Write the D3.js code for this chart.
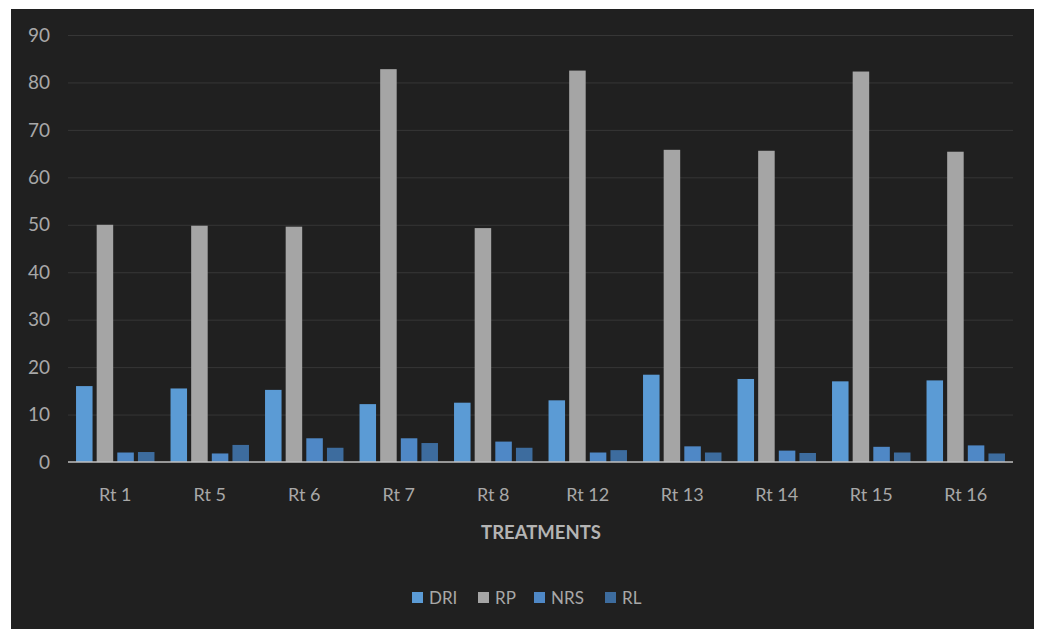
<!DOCTYPE html>
<meta charset="utf-8">
<head>
    <title>Treatments</title>
    <script src="https://d3js.org/d3.v7.min.js"></script>
    <style>
        html, body { margin: 0; padding: 0; background: #fff; }
        text { font-family: Lato, "Open Sans", sans-serif; }
        .grid line { stroke: #363636; stroke-width: 1px; }
        .grid path { display: none; }
    </style>
</head>
<body>
<svg width="1041" height="636"></svg>
<script>

// data
var treatments = ["Rt 1", "Rt 5", "Rt 6", "Rt 7", "Rt 8", "Rt 12", "Rt 13", "Rt 14", "Rt 15", "Rt 16"];
var seriesNames = ["DRI", "RP", "NRS", "RL"];
var dri = [16, 15.5, 15.2, 12.2, 12.5, 13, 18.4, 17.5, 17, 17.2];
var rp  = [50, 49.8, 49.6, 82.8, 49.3, 82.5, 65.8, 65.6, 82.3, 65.4];
var nrs = [2, 1.8, 5, 5, 4.3, 2, 3.3, 2.4, 3.2, 3.5];
var rl  = [2.1, 3.6, 3, 4, 3, 2.5, 2, 1.9, 2, 1.8];
var yTicks = [0, 10, 20, 30, 40, 50, 60, 70, 80, 90];
var colors = ["#5b9bd5", "#a5a5a5", "#4f88c6", "#3d6c9e"];

var values = [dri, rp, nrs, rl];

var svg = d3.select("svg");

// dark chart area
svg.append("rect")
    .attr("x", 11).attr("y", 9)
    .attr("width", 1023).attr("height", 620)
    .attr("fill", "#202020");

var margin = {top: 35, left: 68, right: 28, bottom: 174};
var width = 1041 - margin.left - margin.right,
    height = 636 - margin.top - margin.bottom;

var x = d3.scaleBand().domain(treatments).range([0, width]).paddingInner(0.17).paddingOuter(0.085);
var x1 = d3.scaleBand().domain(seriesNames).range([0, x.bandwidth()]).paddingInner(0.2);
var y = d3.scaleLinear().domain([0, 90]).range([height, 0]);

var g = svg.append("g")
    .attr("transform", "translate(" + margin.left + "," + margin.top + ")");

// grid lines
g.append("g")
    .attr("class", "grid")
    .call(d3.axisLeft(y).tickValues(yTicks.slice(1)).tickSize(-width).tickFormat(""));

// y labels
g.selectAll(".ylab")
    .data(yTicks)
    .enter().append("text")
    .attr("class", "ylab")
    .attr("x", -18)
    .attr("y", d => y(d))
    .attr("dy", "0.35em")
    .attr("text-anchor", "end")
    .attr("fill", "#a8a8a8")
    .attr("font-size", "19px")
    .text(d => d);

// bars
var groups = g.selectAll(".grp")
    .data(treatments)
    .enter().append("g")
    .attr("class", "grp")
    .attr("transform", d => "translate(" + x(d) + ",0)");

groups.selectAll("rect")
    .data((d, i) => seriesNames.map((s, j) => ({s: s, v: values[j][i], c: colors[j]})))
    .enter().append("rect")
    .attr("x", d => x1(d.s))
    .attr("y", d => y(d.v))
    .attr("width", x1.bandwidth())
    .attr("height", d => height - y(d.v))
    .attr("fill", d => d.c);

// baseline
g.append("line")
    .attr("x1", 0).attr("x2", width)
    .attr("y1", height).attr("y2", height)
    .attr("stroke", "#bfbfbf")
    .attr("stroke-width", 1.5);

// category labels
g.selectAll(".xlab")
    .data(treatments)
    .enter().append("text")
    .attr("class", "xlab")
    .attr("x", d => x(d) + x.bandwidth() / 2)
    .attr("y", height + 39)
    .attr("text-anchor", "middle")
    .attr("fill", "#a8a8a8")
    .attr("font-size", "18px")
    .text(d => d);

// axis title
svg.append("text")
    .attr("x", 541)
    .attr("y", 539)
    .attr("text-anchor", "middle")
    .attr("fill", "#b4b4b4")
    .attr("font-size", "18.5px")
    .attr("font-weight", "bold")
    .text("TREATMENTS");

// legend
var legendX = [412, 478, 534, 605];
var legend = svg.selectAll(".leg")
    .data(seriesNames)
    .enter().append("g")
    .attr("class", "leg")
    .attr("transform", (d, i) => "translate(" + legendX[i] + ",598)");

legend.append("rect")
    .attr("x", 0).attr("y", -6)
    .attr("width", 11).attr("height", 11)
    .attr("fill", (d, i) => colors[i]);

legend.append("text")
    .attr("x", 17)
    .attr("y", 0)
    .attr("dy", "0.35em")
    .attr("fill", "#a8a8a8")
    .attr("font-size", "17px")
    .text(d => d);

</script>
</body>
</html>
